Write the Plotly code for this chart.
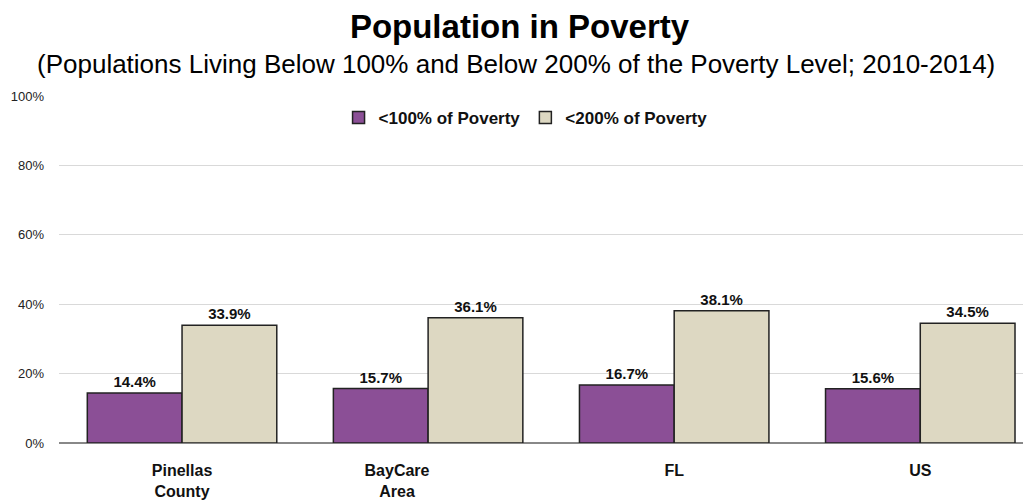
import plotly.graph_objects as go

categories = ["Pinellas<br>County", "BayCare" + "\u00a0" * 14 + "<br>Area" + "\u00a0" * 14, "FL", "US"]
below_100 = [14.4, 15.7, 16.7, 15.6]
below_200 = [33.9, 36.1, 38.1, 34.5]
series_names = ["<100% of Poverty", "<200% of Poverty"]
ytick_vals = [0, 20, 40, 60, 80, 100]
ytick_text = ["0%", "20%", "40%", "60%", "80%", "100%"]

xs = list(range(len(categories)))
font_main = "Liberation Sans, Arial, sans-serif"

W, H = 1023, 492
ML, MT, MB = 51, 88, 57
PH = H - MT - MB

fig = go.Figure()
fig.add_trace(go.Bar(
    x=xs, y=below_100, name=f"<b>{series_names[0]}</b>",
    marker=dict(color="#8B4F96", line=dict(color="#222222", width=1.5)),
    text=[f"<b>{v:.1f}%</b>" for v in below_100], textposition="outside",
    textfont=dict(family=font_main, size=15, color="#111111"),
    cliponaxis=False,
))
fig.add_trace(go.Bar(
    x=xs, y=below_200, name=f"<b>{series_names[1]}</b>",
    marker=dict(color="#DDD8C2", line=dict(color="#222222", width=1.5)),
    text=[f"<b>{v:.1f}%</b>" for v in below_200], textposition="outside",
    textfont=dict(family=font_main, size=15, color="#111111"),
    cliponaxis=False,
))

fig.update_layout(
    width=W, height=H,
    margin=dict(l=ML, r=0, t=MT, b=MB),
    paper_bgcolor="white", plot_bgcolor="white",
    barmode="group", bargap=0.23, bargroupgap=0,
    font=dict(family=font_main, color="#111111"),
    title=dict(
        text="<b>Population in Poverty</b>",
        x=0.5, xanchor="center", y=1 - 18 / H, yanchor="middle",
        font=dict(family=font_main, size=33, color="#000000"),
    ),
    annotations=[dict(
        text="(Populations Living Below 100% and Below 200% of the Poverty Level; 2010-2014)",
        xref="paper", yref="paper", x=0.5, y=1.0 + 32 / PH,
        xanchor="center", yanchor="middle", showarrow=False,
        font=dict(family=font_main, size=26, color="#000000"),
        xshift=(516 - 8 - (ML + (W - ML) * 0.5)),
    )],
    legend=dict(
        orientation="h", x=0.48, xanchor="center", y=1 - 22 / PH, yanchor="middle",
        font=dict(family=font_main, size=17, color="#111111"),
        traceorder="normal", itemwidth=30, bgcolor="rgba(0,0,0,0)",
    ),
    xaxis=dict(
        tickmode="array", tickvals=xs, ticktext=[f"<b>{c}</b>" for c in categories],
        range=[-0.5, 3.45], showgrid=False, ticks="",
        tickfont=dict(family=font_main, size=16, color="#111111"),
        showline=False, zeroline=False, ticklabelstandoff=16,
    ),
    yaxis=dict(
        range=[0, 100], tickvals=ytick_vals, ticktext=ytick_text,
        showgrid=True, gridcolor="#d9d9d9", gridwidth=1,
        zeroline=True, zerolinecolor="#888888", zerolinewidth=1.5,
        tickfont=dict(family=font_main, size=13, color="#222222"),
        ticks="", ticklabelstandoff=14,
    ),
)

fig.write_html("out.html")
